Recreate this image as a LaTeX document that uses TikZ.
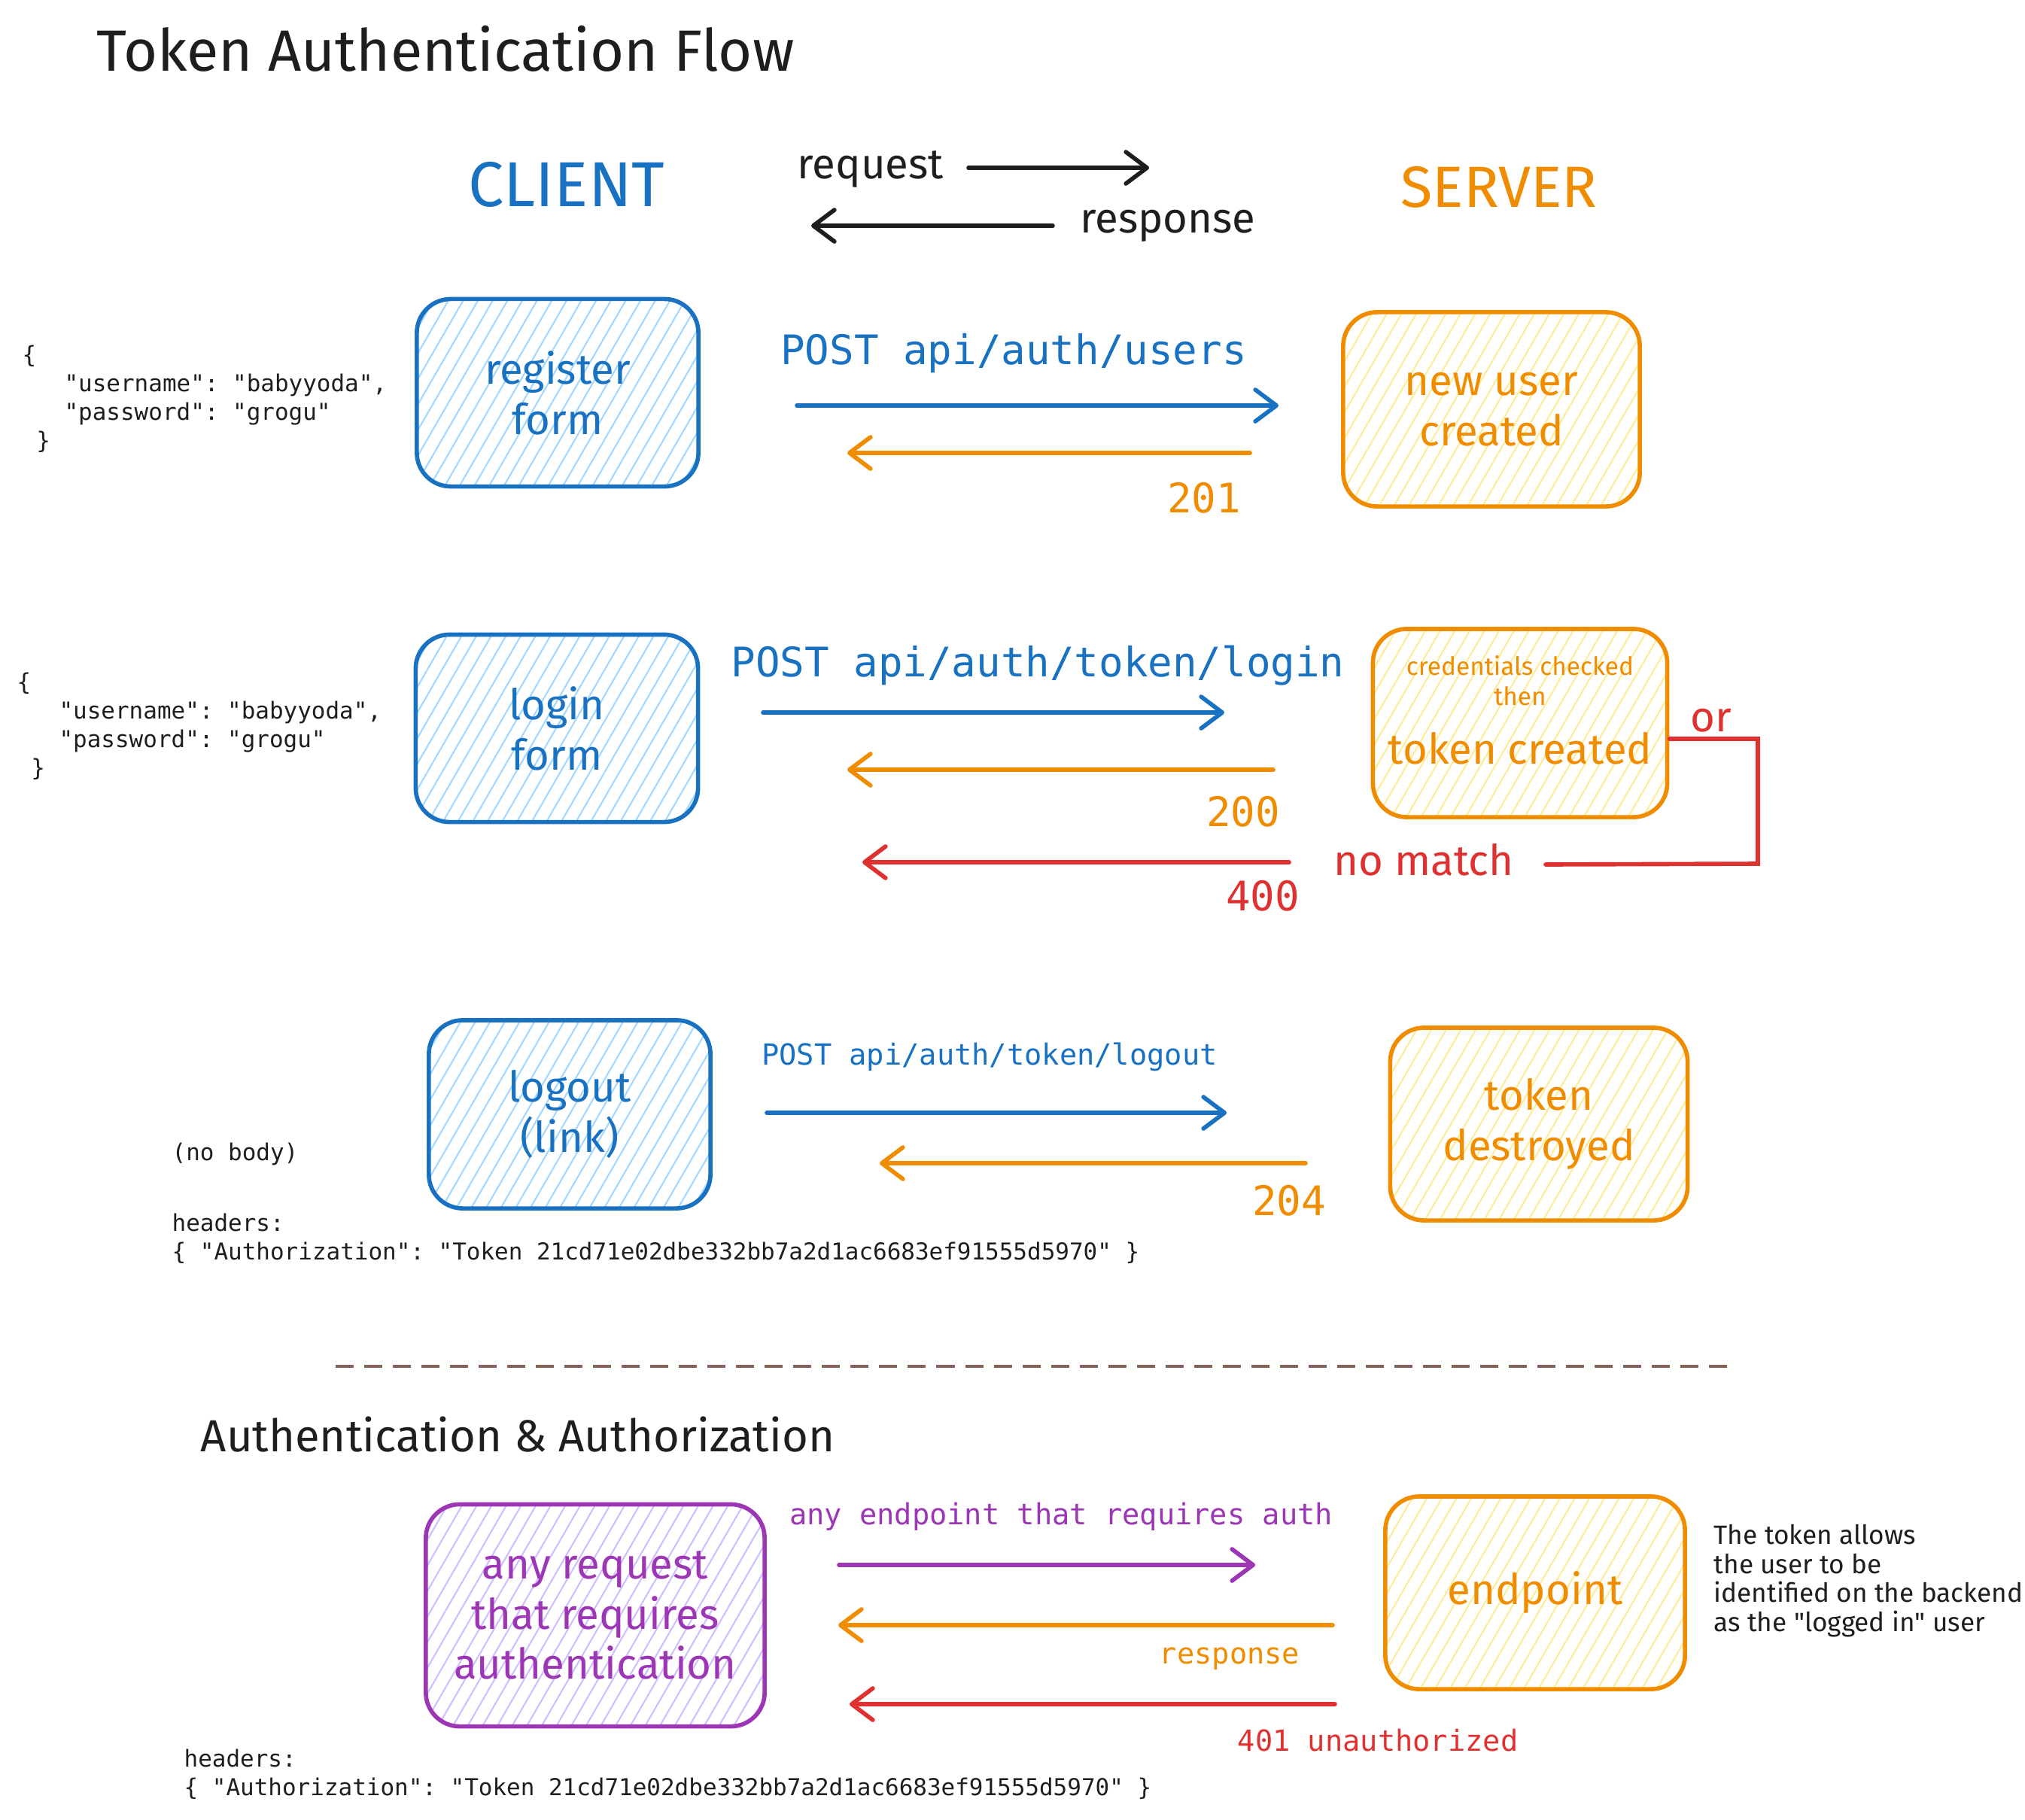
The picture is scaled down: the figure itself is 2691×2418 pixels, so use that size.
\documentclass[tikz,border=0pt]{standalone}
\usepackage{fontspec}
\setmainfont{Fira Sans}
\setmonofont{DejaVu Sans Mono}
\usetikzlibrary{arrows.meta,patterns.meta}

\definecolor{ink}{HTML}{1E1E1E}
\definecolor{cblue}{HTML}{1971C2}
\definecolor{cbluefill}{HTML}{A5D8FF}
\definecolor{corange}{HTML}{F08C00}
\definecolor{corangefill}{HTML}{FFEC99}
\definecolor{cred}{HTML}{E03131}
\definecolor{cpurple}{HTML}{9C36B5}
\definecolor{cpurplefill}{HTML}{D0BFFF}
\definecolor{cbrown}{HTML}{846358}

\tikzset{
  sketchbox/.style 2 args={draw=#1,text=#1,line width=1.6pt,rounded corners=0.45cm,
    pattern={Lines[angle=60,distance=0.17cm,line width=0.6pt]},pattern color=#2,
    align=center,inner sep=0pt,font=\fontsize{16}{19}\selectfont},
  flow/.style={line width=1.6pt,line cap=round,
    -{Straight Barb[length=0.28cm,width=0.42cm,round]}},
  handbig/.style={inner sep=0pt,font=\fontsize{22}{26}\selectfont},
  handmid/.style={inner sep=0pt,font=\fontsize{16}{19}\selectfont},
  handnote/.style={inner sep=0pt,align=left,text=ink,font=\fontsize{10}{11}\selectfont},
  jsontext/.style={inner sep=0pt,align=left,text=ink,font=\ttfamily\fontsize{8.8}{10.8}\selectfont},
  apismall/.style={inner sep=0pt,font=\ttfamily\fontsize{11}{13}\selectfont},
  apibig/.style={inner sep=0pt,font=\ttfamily\fontsize{15.4}{18}\selectfont},
}

\begin{document}
\begin{tikzpicture}[x=0.01cm,y=-0.01cm]
  \path[use as bounding box,fill=white] (0,0) rectangle (2691,2418);

  % headings
  \node[handbig,text=ink] (title) at (592,65) {Token Authentication Flow};
  \node[handbig,text=cblue,font=\fontsize{24}{28}\selectfont] (client) at (753,245) {CLIENT};
  \node[handbig,text=corange] (server) at (1992,249) {SERVER};
  \node[handmid,text=ink] (reqtxt) at (1157,225) {request};
  \node[handmid,text=ink] (resptxt) at (1552,300) {response};
  \coordinate (reqA) at (1287,223);
  \coordinate (reqB) at (1527,223);
  \coordinate (respA) at (1399,300);
  \coordinate (respB) at (1078,300);
  \draw[flow,ink] (reqA) -- (reqB);
  \draw[flow,ink] (respA) -- (respB);

  % register
  \node[jsontext,anchor=west] (json1) at (29,530)
    {\{\\\ \ \ "username": "babyyoda",\\\ \ \ "password": "grogu"\\\ \}};
  \node[sketchbox={cblue}{cbluefill},minimum width=3.74cm,minimum height=2.49cm]
    (reg) at (741,522) {register\\form};
  \node[sketchbox={corange}{corangefill},minimum width=3.94cm,minimum height=2.58cm]
    (newuser) at (1982,544) {new user\\created};
  \node[apibig,text=cblue] (post1) at (1347,470) {POST api/auth/users};
  \node[apibig,text=corange] (c201) at (1600,662) {201};
  \coordinate (u1a) at (1059,539);
  \coordinate (u1b) at (1699,539);
  \coordinate (r1a) at (1661,602);
  \coordinate (r1b) at (1126,602);
  \draw[flow,cblue] (u1a) -- (u1b);
  \draw[flow,corange] (r1a) -- (r1b);

  % login
  \node[jsontext,anchor=west] (json2) at (22,965)
    {\{\\\ \ \ "username": "babyyoda",\\\ \ \ "password": "grogu"\\\ \}};
  \node[sketchbox={cblue}{cbluefill},minimum width=3.75cm,minimum height=2.49cm]
    (login) at (740,968) {login\\form};
  \node[sketchbox={corange}{corangefill},minimum width=3.91cm,minimum height=2.5cm]
    (tokencr) at (2020,961) {};
  \node[inner sep=0pt,align=center,text=corange,font=\fontsize{9.5}{11.3}\selectfont]
    (tokentxt) at (2020,944)
    {credentials checked\\then\\[9pt]
     \fontsize{16}{19}\selectfont token created};
  \node[apibig,text=cblue] (post2) at (1379,885) {POST api/auth/token/login};
  \node[apibig,text=corange] (c200) at (1652,1079) {200};
  \node[apibig,text=cred] (c400) at (1678,1191) {400};
  \node[handmid,text=cred] (nomatch) at (1892,1143) {no match};
  \node[handmid,text=cred] (ortxt) at (2274,958) {or};
  \coordinate (u2a) at (1014,947);
  \coordinate (u2b) at (1627,947);
  \coordinate (r2a) at (1692,1023);
  \coordinate (r2b) at (1126,1023);
  \coordinate (e2a) at (1713,1146);
  \coordinate (e2b) at (1146,1146);
  \draw[flow,cblue] (u2a) -- (u2b);
  \draw[flow,corange] (r2a) -- (r2b);
  \draw[flow,cred] (e2a) -- (e2b);
  \coordinate (orA) at ([yshift=-0.21cm]tokencr.east);
  \coordinate (orB) at (2336,982);
  \coordinate (orC) at (2336,1148);
  \coordinate (orD) at (2054,1149);
  \draw[cred,line width=1.6pt,line cap=round] (orA) -- (orB) -- (orC) -- (orD);

  % logout
  \node[sketchbox={cblue}{cbluefill},minimum width=3.74cm,minimum height=2.5cm]
    (logout) at (757,1481) {logout\\(link)};
  \node[sketchbox={corange}{corangefill},minimum width=3.95cm,minimum height=2.56cm]
    (destroyed) at (2045,1494) {token\\destroyed};
  \node[apismall,text=cblue] (post3) at (1315,1405) {POST api/auth/token/logout};
  \node[apibig,text=corange] (c204) at (1713,1596) {204};
  \node[jsontext,anchor=west] (nobody) at (228,1534) {(no body)};
  \node[jsontext,anchor=west] (hdr1) at (228,1646)
    {headers:\\\{ "Authorization": "Token 21cd71e02dbe332bb7a2d1ac6683ef91555d5970" \}};
  \coordinate (u3a) at (1019,1479);
  \coordinate (u3b) at (1630,1479);
  \coordinate (r3a) at (1735,1546);
  \coordinate (r3b) at (1169,1546);
  \draw[flow,cblue] (u3a) -- (u3b);
  \draw[flow,corange] (r3a) -- (r3b);

  % separator
  \coordinate (sepA) at (446,1816);
  \coordinate (sepB) at (2303,1816);
  \draw[cbrown,line width=1.2pt,dash pattern=on 0.24cm off 0.14cm] (sepA) -- (sepB);

  % authentication & authorization
  \node[inner sep=0pt,text=ink,font=\fontsize{17}{20}\selectfont] (subtitle) at (688,1907)
    {Authentication \& Authorization};
  \node[sketchbox={cpurple}{cpurplefill},minimum width=4.5cm,minimum height=2.95cm]
    (anyreq) at (791,2147) {any request\\that requires\\authentication};
  \node[sketchbox={corange}{corangefill},minimum width=3.98cm,minimum height=2.56cm]
    (endpoint) at (2040,2117) {endpoint};
  \node[apismall,text=cpurple] (anyep) at (1410,2016) {any endpoint that requires auth};
  \node[apismall,text=corange] (resp4) at (1634,2205) {response};
  \node[apismall,text=cred] (c401) at (1831,2313) {401 unauthorized};
  \node[handnote,anchor=west] (note) at (2277,2101)
    {The token allows\\the user to be\\identified on the backend\\as the \textquotedbl logged in\textquotedbl\ user};
  \node[jsontext,anchor=west] (hdr2) at (244,2358)
    {headers:\\\{ "Authorization": "Token 21cd71e02dbe332bb7a2d1ac6683ef91555d5970" \}};
  \coordinate (p4a) at (1115,2080);
  \coordinate (p4b) at (1668,2080);
  \coordinate (r4a) at (1771,2160);
  \coordinate (r4b) at (1114,2160);
  \coordinate (e4a) at (1774,2265);
  \coordinate (e4b) at (1129,2265);
  \draw[flow,cpurple] (p4a) -- (p4b);
  \draw[flow,corange] (r4a) -- (r4b);
  \draw[flow,cred] (e4a) -- (e4b);
\end{tikzpicture}
\end{document}
